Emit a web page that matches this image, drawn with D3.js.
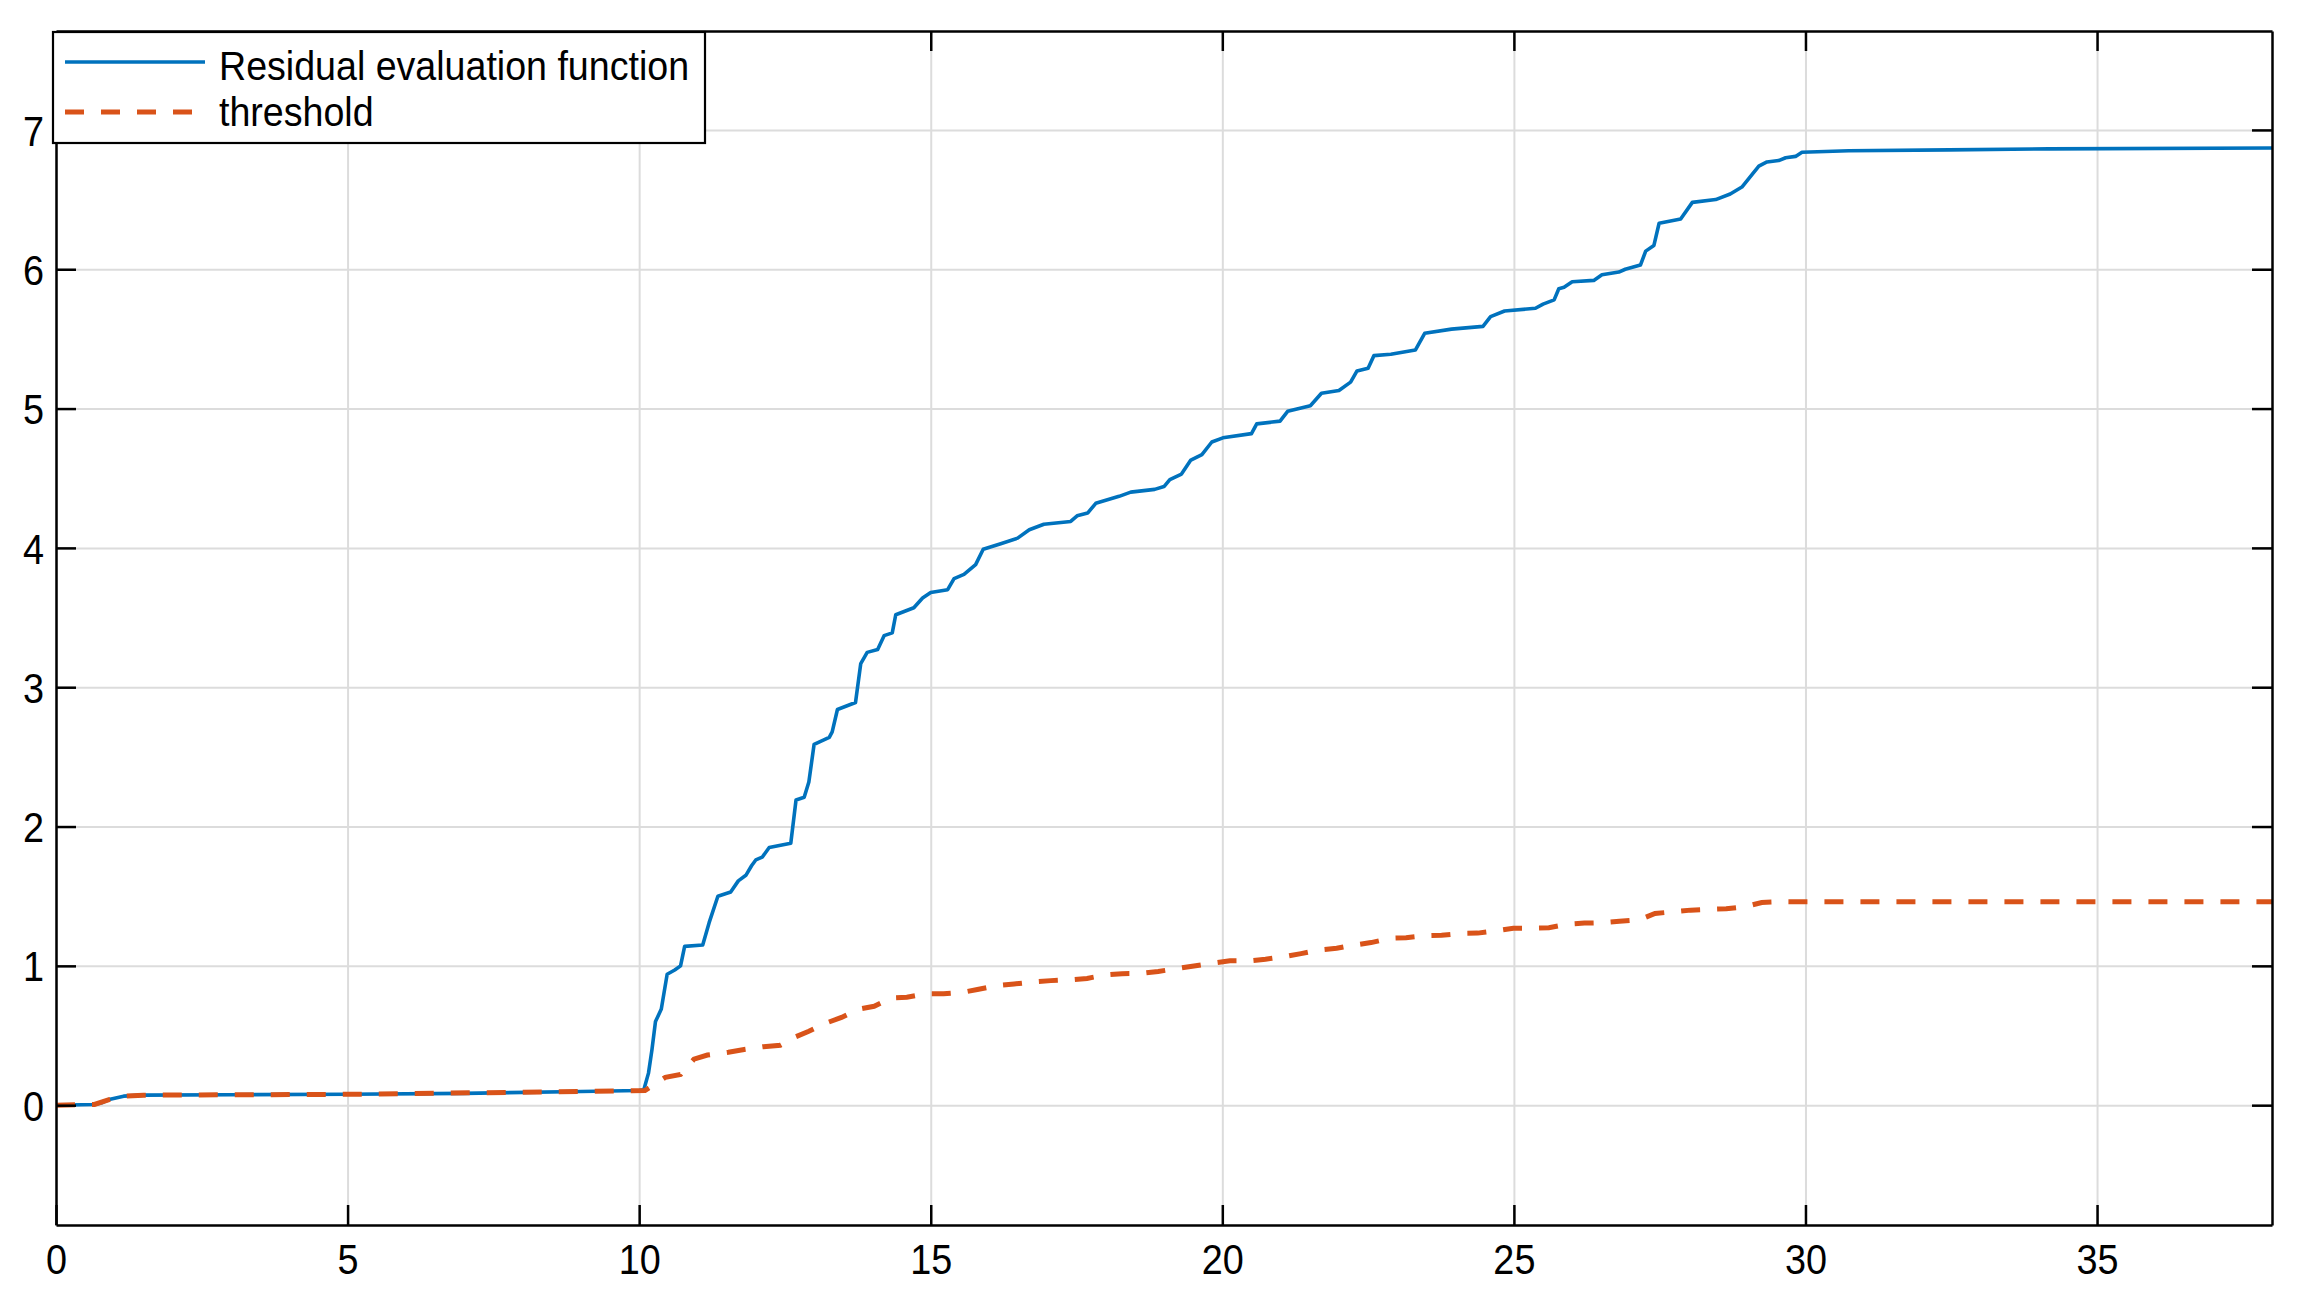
<!DOCTYPE html>
<html>
<head>
<meta charset="utf-8">
<script src="https://cdn.jsdelivr.net/npm/d3@7"></script>
<style>
  html, body { margin: 0; padding: 0; background: #fff; }
  svg { display: block; }
  text { font-family: "Liberation Sans", Arial, Helvetica, sans-serif; fill: #000; }
</style>
</head>
<body>
<svg id="chart" width="2297" height="1296"></svg>
<script>
// ---------------- data ----------------
const seriesNames = ["Residual evaluation function", "threshold"];
const xTicks = [0, 5, 10, 15, 20, 25, 30, 35];
const yTicks = [0, 1, 2, 3, 4, 5, 6, 7];

const residualX = [0,0.66,0.8,0.91,1.16,1.5,3,5,7,9,10.0,10.08,10.16,10.22,10.28,10.38,10.48,10.61,10.71,10.78,11.09,11.2,11.35,11.57,11.7,11.83,11.93,12.0,12.11,12.23,12.6,12.69,12.83,12.91,13.0,13.26,13.31,13.4,13.71,13.8,13.91,14.09,14.2,14.34,14.4,14.71,14.86,15.0,15.29,15.4,15.57,15.77,15.9,16.2,16.49,16.69,16.94,17.4,17.51,17.69,17.83,18.23,18.43,18.84,19.0,19.1,19.3,19.46,19.65,19.82,20.01,20.5,20.59,20.99,21.12,21.51,21.7,22.0,22.2,22.31,22.5,22.6,22.89,23.31,23.47,23.93,24.47,24.6,24.84,25.37,25.5,25.69,25.77,25.86,26.0,26.37,26.51,26.8,26.91,27.17,27.26,27.4,27.49,27.86,28.06,28.46,28.71,28.91,29.2,29.34,29.54,29.66,29.83,29.94,30.74,32.46,34.17,38];
const residualY = [0,0.005,0.02,0.04,0.065,0.072,0.075,0.078,0.085,0.098,0.105,0.11,0.23,0.40,0.60,0.69,0.94,0.97,1.0,1.14,1.15,1.31,1.50,1.53,1.61,1.65,1.72,1.76,1.78,1.85,1.88,2.19,2.21,2.32,2.59,2.64,2.68,2.84,2.89,3.17,3.25,3.27,3.37,3.39,3.52,3.57,3.64,3.68,3.70,3.78,3.81,3.88,3.99,4.03,4.07,4.13,4.17,4.19,4.23,4.25,4.32,4.37,4.40,4.42,4.44,4.49,4.53,4.63,4.67,4.76,4.79,4.82,4.89,4.91,4.98,5.02,5.11,5.13,5.19,5.27,5.29,5.38,5.39,5.42,5.54,5.57,5.59,5.66,5.70,5.72,5.75,5.78,5.86,5.87,5.91,5.92,5.96,5.98,6.0,6.03,6.13,6.17,6.33,6.36,6.48,6.5,6.54,6.59,6.74,6.77,6.78,6.8,6.81,6.84,6.85,6.857,6.864,6.87];

const thresholdX = [0,0.66,0.91,1.16,1.5,5,9,10.1,10.45,10.71,10.94,11.17,11.53,11.8,12.13,12.42,12.68,12.91,13.21,13.47,13.77,14.03,14.33,14.59,14.92,15.22,15.55,15.8,16.17,16.43,16.8,17.06,17.39,17.68,18.0,18.28,18.6,18.9,19.85,20.13,20.46,20.74,21.07,21.35,21.66,21.96,22.27,22.55,22.88,23.15,23.49,23.76,24.1,24.38,24.71,24.99,25.32,25.6,25.93,26.21,26.54,26.81,27.15,27.42,27.73,28.03,28.34,28.64,28.96,29.25,29.56,38];
const thresholdY = [0,0.005,0.04,0.065,0.072,0.078,0.098,0.105,0.2,0.22,0.33,0.36,0.38,0.40,0.42,0.43,0.49,0.53,0.59,0.63,0.69,0.71,0.77,0.775,0.80,0.80,0.81,0.83,0.86,0.87,0.886,0.894,0.90,0.91,0.935,0.944,0.945,0.96,1.02,1.036,1.036,1.048,1.067,1.088,1.114,1.126,1.15,1.167,1.198,1.202,1.217,1.22,1.233,1.235,1.252,1.27,1.27,1.274,1.30,1.307,1.31,1.32,1.33,1.376,1.388,1.40,1.405,1.41,1.424,1.455,1.46,1.46];

// ---------------- layout ----------------
const svg = d3.select("#chart");
const L = 56, R = 2272, T = 31, B = 1225;
const x = d3.scaleLinear().domain([0, 38]).range([L, R]);
const y = d3.scaleLinear().domain([-0.86, 7.71]).range([B, T]);
const BLUE = "#0072BD", ORANGE = "#D95319";
const FONT = 42, SX = 0.9;
const LFONT = 40, LSX = 0.94;

// grid
svg.append("g").attr("transform", `translate(0,${B})`)
  .call(d3.axisBottom(x).tickValues(xTicks).tickSize(-(B - T)).tickFormat(""))
  .call(g => g.select(".domain").remove())
  .call(g => g.selectAll("line").attr("stroke", "#dcdcdc").attr("stroke-width", 2));
svg.append("g").attr("transform", `translate(${L},0)`)
  .call(d3.axisLeft(y).tickValues(yTicks).tickSize(-(R - L)).tickFormat(""))
  .call(g => g.select(".domain").remove())
  .call(g => g.selectAll("line").attr("stroke", "#dcdcdc").attr("stroke-width", 2));

// lines
const line = (xs, ys) => d3.line().x((d, i) => x(xs[i])).y((d, i) => y(ys[i]))(xs);
svg.append("clipPath").attr("id", "clip").append("rect")
  .attr("x", L).attr("y", T).attr("width", R - L).attr("height", B - T);
svg.append("path").attr("d", line(residualX, residualY))
  .attr("fill", "none").attr("stroke", BLUE).attr("stroke-width", 3.6)
  .attr("stroke-linejoin", "round").attr("clip-path", "url(#clip)");
svg.append("path").attr("d", line(thresholdX, thresholdY))
  .attr("fill", "none").attr("stroke", ORANGE).attr("stroke-width", 5)
  .attr("stroke-dasharray", "19,17").attr("clip-path", "url(#clip)");

// axes with inward ticks
const TK = 20;
function styleAxis(g) {
  g.select(".domain").attr("stroke", "#000").attr("stroke-width", 2.5);
  g.selectAll(".tick line").attr("stroke", "#000").attr("stroke-width", 2.5);
}
const axB = svg.append("g").attr("transform", `translate(0,${B})`)
  .call(d3.axisBottom(x).tickValues(xTicks).tickSizeInner(-TK).tickSizeOuter(0).tickPadding(0).tickFormat(d3.format("d")));
styleAxis(axB);
axB.selectAll(".tick text").attr("y", 49).attr("dy", null)
  .style("font-size", FONT + "px").attr("transform", `scale(${SX},1)`);

const axT = svg.append("g").attr("transform", `translate(0,${T})`)
  .call(d3.axisTop(x).tickValues(xTicks).tickSizeInner(-TK).tickSizeOuter(0).tickFormat(""));
styleAxis(axT);

const axLft = svg.append("g").attr("transform", `translate(${L},0)`)
  .call(d3.axisLeft(y).tickValues(yTicks).tickSizeInner(-TK).tickSizeOuter(0).tickPadding(0).tickFormat(d3.format("d")));
styleAxis(axLft);
axLft.selectAll(".tick text").attr("x", -12 / SX).attr("dy", "0.36em")
  .style("font-size", FONT + "px").attr("transform", `scale(${SX},1)`);

const axR = svg.append("g").attr("transform", `translate(${R},0)`)
  .call(d3.axisRight(y).tickValues(yTicks).tickSizeInner(-TK).tickSizeOuter(0).tickFormat(""));
styleAxis(axR);

// legend
const lg = svg.append("g");
lg.append("rect").attr("x", 53).attr("y", 32).attr("width", 652).attr("height", 111)
  .attr("fill", "#fff").attr("stroke", "#000").attr("stroke-width", 2.2);
lg.append("line").attr("x1", 65).attr("x2", 205).attr("y1", 62).attr("y2", 62)
  .attr("stroke", BLUE).attr("stroke-width", 3.6);
lg.append("line").attr("x1", 65).attr("x2", 192).attr("y1", 112).attr("y2", 112)
  .attr("stroke", ORANGE).attr("stroke-width", 5).attr("stroke-dasharray", "19,17");
[[80, seriesNames[0]], [126, seriesNames[1]]].forEach(([by, t]) => {
  lg.append("g").attr("transform", `translate(219,${by}) scale(${LSX},1)`)
    .append("text").attr("x", 0).attr("y", 0).style("font-size", LFONT + "px").text(t);
});
</script>
</body>
</html>
